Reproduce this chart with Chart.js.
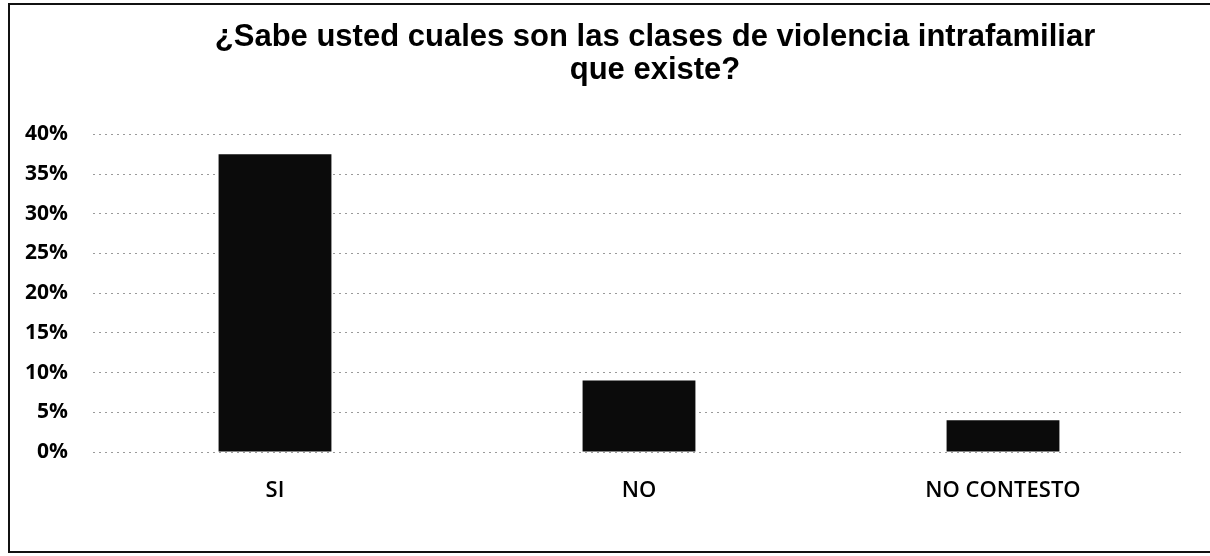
<!DOCTYPE html>
<html>
<head>
<meta charset="utf-8">
<script src="https://cdn.jsdelivr.net/npm/chart.js@4/dist/chart.umd.min.js"></script>
<style>
    html, body { margin: 0; padding: 0; background: #fff; overflow: hidden; width: 1210px; height: 556px; }
    #frame { position: absolute; left: 8px; top: 3px; width: 1230px; height: 550px; border: 2px solid #111; box-sizing: border-box; }
    #wrap { position: absolute; left: 0; top: 0; width: 1310px; height: 556px; }
</style>
</head>
<body>
<div id="frame"></div>
<div id="wrap"><canvas id="bar-chart"></canvas></div>
<script>
const categories = ['SI', 'NO', 'NO CONTESTO']
const values = [37.5, 9, 4]
const tickValues = [0, 5, 10, 15, 20, 25, 30, 35, 40]

const dataBar = {
    labels: categories,
    datasets: [{
        data: values,
        backgroundColor: '#0b0b0b',
        borderWidth: 0,
        categoryPercentage: 1,
        barPercentage: 0.31
    }]
}

const context = document.getElementById('bar-chart').getContext('2d')

const configBar = {
    type: 'bar',
    data: dataBar,
    options: {
        responsive: true,
        maintainAspectRatio: false,
        animation: false,
        layout: {
            padding: 0
        },
        plugins: {
            legend: { display: false },
            tooltip: { enabled: false },
            title: {
                display: true,
                text: ['¿Sabe usted cuales son las clases de violencia intrafamiliar', 'que existe?'],
                color: '#000',
                font: { family: '"Liberation Sans", Arial, sans-serif', size: 31, weight: 'bold', lineHeight: 1.07 },
                padding: { top: 21, bottom: 47 }
            }
        },
        scales: {
            x: {
                afterFit: (axis) => { axis.height = 104 },
                grid: { display: false, drawTicks: false },
                border: { display: false },
                ticks: {
                    color: '#000',
                    padding: 26,
                    font: { family: '"Open Sans", sans-serif', size: 22, weight: '600' }
                }
            },
            y: {
                min: 0,
                max: 40,
                afterFit: (axis) => { axis.width = 93 },
                afterBuildTicks: (axis) => { axis.ticks = tickValues.map(v => ({ value: v })) },
                border: { display: false, dash: [2, 4] },
                grid: {
                    color: '#9a9a9a',
                    lineWidth: 1,
                    drawTicks: false
                },
                ticks: {
                    color: '#000',
                    padding: 25,
                    font: { family: '"Open Sans", sans-serif', size: 21, weight: 'bold' },
                    callback: (v) => v + '%'
                }
            },
            // empty right-hand axis so the title stays centred over the whole frame
            spacer: {
                position: 'right',
                min: 0,
                max: 40,
                afterFit: (axis) => { axis.width = 125 },
                grid: { display: false, drawTicks: false },
                border: { display: false },
                ticks: { display: false }
            }
        }
    }
}

const chartBar = new Chart(context, configBar)
</script>
</body>
</html>
